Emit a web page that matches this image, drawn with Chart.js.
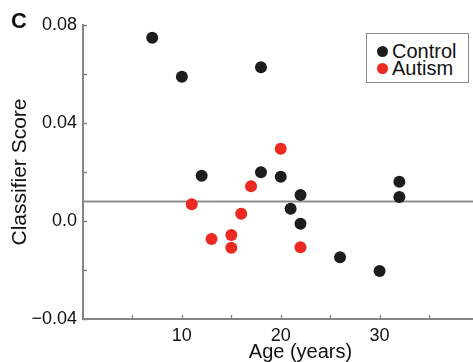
<!DOCTYPE html>
<html lang="en">
<head>
    <meta charset="UTF-8">
    <title>Classifier Score vs Age</title>
    <script src="https://cdn.jsdelivr.net/npm/chart.js"></script>
    <style>
        body { margin: 0; background: #fff; overflow: hidden; }
        #wrap { position: relative; width: 473px; height: 362px; overflow: hidden; }
        #panel { position: absolute; left: 11px; top: 8px; font: bold 22px "Liberation Sans", Arial, sans-serif; color: #111; }
        #legend {
            position: absolute; left: 366px; top: 33px; width: 101px; height: 48px;
            border: 1.5px solid #8a8a8a; background: #fff;
            font: 20px "Liberation Sans", Arial, sans-serif; color: #111;
        }
        #legend div { position: absolute; left: 25px; height: 17px; line-height: 17px; }
        #legend span { position: absolute; left: -15px; top: 3px; width: 11px; height: 11px; border-radius: 50%; }
    </style>
</head>
<body>
<div id="wrap">
    <canvas id="scoreChart" width="524" height="364"></canvas>
    <div id="panel">C</div>
    <div id="legend"></div>
</div>

<script>
    // ages and classifier scores
    const controlAge = [7, 10, 12, 18, 18, 20, 22, 21, 22, 26, 30, 32, 32];
    const controlScore = [0.0748, 0.0589, 0.0185, 0.0628, 0.0199, 0.0181, 0.0106, 0.0050, -0.0011, -0.0148, -0.0204, 0.0160, 0.0098];
    const autismAge = [20, 17, 11, 16, 13, 15, 15, 22];
    const autismScore = [0.0295, 0.0142, 0.0068, 0.0030, -0.0073, -0.0057, -0.0109, -0.0107];
    const threshold = 0.008;

    const seriesNames = ['Control', 'Autism'];
    const seriesColors = ['#1d1d1d', '#ec2a22'];

    const xTickValues = [10, 20, 30];
    const xMarkValues = [5, 10, 15, 20, 25, 30, 35, 40];
    const yTickValues = [-0.04, 0, 0.04, 0.08];
    const yTickText = ['\u22120.04', '0.0', '0.04', '0.08'];
    const yMarkValues = [-0.04, -0.02, 0, 0.02, 0.04, 0.06, 0.08];

    const font = "'Liberation Sans', Arial, sans-serif";
    const axisGray = '#858585';

    // legend
    const legend = document.getElementById('legend');
    seriesNames.forEach((name, i) => {
        const row = document.createElement('div');
        row.style.top = (9 + i * 17) + 'px';
        row.innerHTML = '<span style="background:' + seriesColors[i] + '"></span>' + name;
        legend.appendChild(row);
    });

    const toPoints = (xs, ys) => xs.map((x, i) => ({ x: x, y: ys[i] }));

    // small inward tick marks like the original plot
    const innerTicks = {
        id: 'innerTicks',
        afterDraw(chart) {
            const ctx = chart.ctx;
            const xs = chart.scales.x, ys = chart.scales.y;
            ctx.save();
            ctx.strokeStyle = axisGray;
            ctx.lineWidth = 1.3;
            ctx.beginPath();
            yMarkValues.forEach(v => {
                const py = Math.round(ys.getPixelForValue(v)) + 0.5;
                ctx.moveTo(xs.left, py);
                ctx.lineTo(xs.left + 4, py);
            });
            xMarkValues.forEach(v => {
                const px = Math.round(xs.getPixelForValue(v)) + 0.5;
                ctx.moveTo(px, ys.bottom);
                ctx.lineTo(px, ys.bottom - 4);
            });
            ctx.stroke();
            ctx.restore();
        }
    };

    new Chart(document.getElementById('scoreChart'), {
        type: 'scatter',
        data: {
            datasets: [
                {
                    label: seriesNames[0],
                    data: toPoints(controlAge, controlScore),
                    backgroundColor: seriesColors[0],
                    borderWidth: 0,
                    pointRadius: 6,
                    order: 1
                },
                {
                    label: seriesNames[1],
                    data: toPoints(autismAge, autismScore),
                    backgroundColor: seriesColors[1],
                    borderWidth: 0,
                    pointRadius: 6,
                    order: 1
                },
                {
                    type: 'line',
                    label: 'threshold',
                    data: [{ x: 0, y: threshold }, { x: 44, y: threshold }],
                    borderColor: '#8e8e8e',
                    borderWidth: 2,
                    pointRadius: 0,
                    order: 3
                }
            ]
        },
        options: {
            responsive: false,
            animation: false,
            events: [],
            layout: { padding: { top: 25, left: 0, right: 0, bottom: 0 } },
            plugins: { legend: { display: false }, tooltip: { enabled: false } },
            scales: {
                x: {
                    type: 'linear',
                    min: 0,
                    max: 44,
                    grid: { display: false, drawTicks: false },
                    border: { display: true, color: axisGray, width: 2 },
                    afterBuildTicks: s => { s.ticks = xTickValues.map(v => ({ value: v })); },
                    afterFit: s => { s.height = 45; },
                    ticks: {
                        padding: 6,
                        color: '#111',
                        font: { family: font, size: 18 },
                        maxRotation: 0
                    },
                    title: {
                        display: true,
                        text: 'Age (years)',
                        color: '#111',
                        font: { family: font, size: 20 },
                        padding: { top: 0, bottom: 0 }
                    }
                },
                y: {
                    min: -0.04,
                    max: 0.08,
                    grid: { display: false, drawTicks: false },
                    border: { display: true, color: axisGray, width: 2 },
                    afterBuildTicks: s => { s.ticks = yTickValues.map(v => ({ value: v })); },
                    afterFit: s => { s.width = 83; },
                    ticks: {
                        padding: 6,
                        color: '#111',
                        font: { family: font, size: 18 },
                        callback: v => {
                            const i = yTickValues.findIndex(t => Math.abs(t - v) < 1e-9);
                            return i >= 0 ? yTickText[i] : '';
                        }
                    },
                    title: {
                        display: true,
                        text: 'Classifier Score',
                        color: '#111',
                        font: { family: font, size: 21 },
                        padding: { top: 8, bottom: 0 }
                    }
                }
            }
        },
        plugins: [innerTicks]
    });
</script>
</body>
</html>
